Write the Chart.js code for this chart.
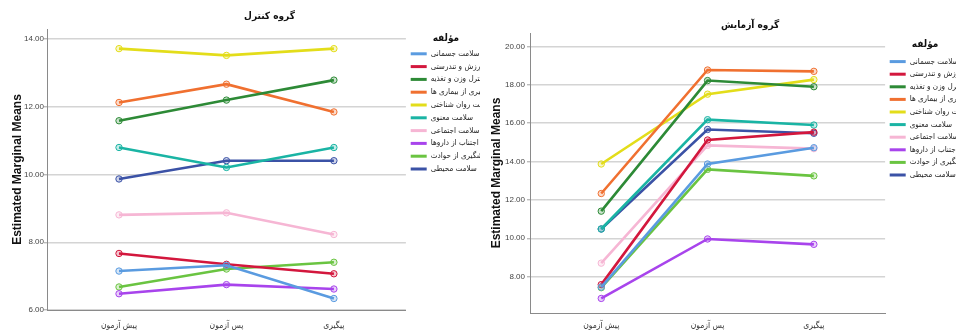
<!DOCTYPE html>
<html lang="fa">
<head>
<meta charset="utf-8">
<title>Estimated Marginal Means</title>
<script src="https://cdn.jsdelivr.net/npm/chart.js@4.4.1/dist/chart.umd.min.js"></script>
<style>
  html, body { margin: 0; padding: 0; background: #ffffff; }
  body { width: 956px; height: 335px; overflow: hidden; position: relative; }
  .panel { position: absolute; top: 0; background: #ffffff; }
  #controlPanel { left: 0; }
  #experimentPanel { left: 480px; }
</style>
</head>
<body>
<div class="panel" id="controlPanel"><canvas id="controlChart" width="536" height="335"></canvas></div>
<div class="panel" id="experimentPanel"><canvas id="experimentChart" width="540" height="335"></canvas></div>
<script>
// Measurement occasions (x axis)
const occasions = ['پیش آزمون', 'پس آزمون', 'پیگیری'];

// Health components (legend entries)
const components = [
  'سلامت جسمانی',
  'ورزش و تندرستی',
  'کنترل وزن و تغذیه',
  'پیشگیری از بیماری ها',
  'سلامت روان شناختی',
  'سلامت معنوی',
  'سلامت اجتماعی',
  'اجتناب از داروها',
  'پیشگیری از حوادث',
  'سلامت محیطی'
];

const componentColors = [
  '#5a9be0', '#d3173d', '#2d8a36', '#f07030', '#e3dd1a',
  '#1ab4a4', '#f6b6d4', '#a844ec', '#6ac441', '#3b52a6'
];

// Control group means, one row per component (pre, post, follow-up)
const controlMeans = [
  [7.15, 7.32, 6.34],
  [7.67, 7.35, 7.07],
  [11.59, 12.20, 12.79],
  [12.13, 12.67, 11.85],
  [13.72, 13.52, 13.72],
  [10.80, 10.21, 10.80],
  [8.81, 8.87, 8.23],
  [6.48, 6.75, 6.62],
  [6.68, 7.21, 7.41],
  [9.87, 10.41, 10.41]
];

// Experimental group means, one row per component (pre, post, follow-up)
const experimentMeans = [
  [7.45, 13.87, 14.72],
  [7.58, 15.12, 15.53],
  [11.41, 18.22, 17.90],
  [12.33, 18.77, 18.70],
  [13.87, 17.51, 18.27],
  [10.48, 16.18, 15.90],
  [8.70, 14.84, 14.67],
  [6.86, 9.96, 9.68],
  [7.42, 13.59, 13.25],
  [10.48, 15.67, 15.47]
];

// Value-axis tick labels
const controlTicks = [6, 8, 10, 12, 14];
const experimentTicks = [8, 10, 12, 14, 16, 18, 20];

const groupTitles = ['گروه کنترل', 'گروه آزمایش'];
const legendTitle = 'مؤلفه';
const valueAxisTitle = 'Estimated Marginal Means';

const persianFont = '"DejaVu Sans Condensed", "DejaVu Sans", sans-serif';
const latinFont = '"Liberation Sans", Arial, sans-serif';

function withAlpha(hex, a) {
  const n = parseInt(hex.slice(1), 16);
  return `rgba(${(n >> 16) & 255}, ${(n >> 8) & 255}, ${n & 255}, ${a})`;
}

// Draws the panel heading above the plot and the legend heading above the legend entries
const captionPlugin = {
  id: 'panelCaptions',
  afterDraw(chart, args, opts) {
    const { ctx, chartArea, legend } = chart;
    ctx.save();
    ctx.fillStyle = '#111';
    ctx.textAlign = 'center';
    ctx.textBaseline = 'middle';
    ctx.font = `bold 10px ${persianFont}`;
    ctx.fillText(opts.title, chartArea.left + chartArea.width * 0.62, chartArea.top - opts.titleGap);
    ctx.fillText(legendTitle, legend.left + opts.legendTitleShift, legend.top + opts.legendTitleTop + 6);
    ctx.restore();
  }
};

function buildDatasets(rows) {
  return rows.map((row, i) => ({
    label: components[i],
    data: row.map((v, j) => ({ x: j, y: v })),
    borderColor: componentColors[i],
    backgroundColor: componentColors[i],
    borderWidth: 2.6,
    pointRadius: 3.2,
    pointBorderWidth: 1,
    pointBackgroundColor: withAlpha(componentColors[i], 0.25),
    pointBorderColor: componentColors[i],
    tension: 0
  }));
}

function buildChart(canvasId, title, rows, yTicks, yMin, yMax, cfg) {
  return new Chart(document.getElementById(canvasId), {
    type: 'line',
    data: { datasets: buildDatasets(rows) },
    plugins: [captionPlugin],
    options: {
      responsive: false,
      animation: false,
      layout: { padding: { left: cfg.left, right: cfg.right, top: cfg.top, bottom: 0 } },
      plugins: {
        panelCaptions: {
          title: title,
          titleGap: cfg.titleGap,
          legendTitleTop: cfg.legendTitleTop,
          legendTitleShift: 40
        },
        legend: {
          position: 'right',
          align: 'start',
          title: {
            display: true,
            text: legendTitle,
            color: 'rgba(0,0,0,0)',
            font: { family: persianFont, size: 10, weight: 'bold' },
            padding: { top: cfg.legendTitleTop, bottom: cfg.legendTitleBottom }
          },
          labels: {
            boxWidth: 16,
            boxHeight: 3,
            padding: cfg.legendPad,
            color: '#222',
            font: { family: persianFont, size: 8 },
            generateLabels(chart) {
              const items = Chart.defaults.plugins.legend.labels.generateLabels(chart);
              items.forEach(it => { it.lineWidth = 0; it.fillStyle = it.strokeStyle; });
              return items;
            }
          }
        },
        tooltip: { enabled: false }
      },
      scales: {
        x: {
          type: 'linear',
          min: -0.67,
          max: 2.67,
          afterBuildTicks(scale) { scale.ticks = occasions.map((_, i) => ({ value: i })); },
          afterFit(scale) { scale.height = cfg.xHeight; },
          ticks: {
            color: '#333',
            padding: cfg.xPad,
            font: { family: persianFont, size: 8.5 },
            callback: v => occasions[v]
          },
          grid: { display: false, drawTicks: false },
          border: { display: true, color: '#8a8a8a', width: 1 }
        },
        y: {
          min: yMin,
          max: yMax,
          afterBuildTicks(scale) { scale.ticks = yTicks.map(v => ({ value: v })); },
          ticks: {
            color: '#444',
            padding: cfg.yPad,
            font: { family: latinFont, size: 8 },
            callback: v => Number(v).toFixed(2)
          },
          grid: { color: '#d4d4d4', lineWidth: 1.4, tickLength: 3, tickColor: '#bbbbbb' },
          border: { display: true, color: '#8a8a8a', width: 1 },
          title: {
            display: true,
            text: valueAxisTitle,
            color: '#111',
            font: { family: latinFont, size: 12, weight: 'bold', lineHeight: 1 },
            padding: { top: 0, bottom: 0 }
          }
        }
      }
    }
  });
}

buildChart('controlChart', groupTitles[0], controlMeans, controlTicks, 6, 14.3, {
  left: 12, right: 31, top: 29, titleGap: 13, xHeight: 25,
  legendTitleTop: 3, legendTitleBottom: 1, legendPad: 4.8, xPad: 11, yPad: 0
});
buildChart('experimentChart', groupTitles[1], experimentMeans, experimentTicks, 6.1, 20.7, {
  left: 11, right: 36, top: 33, titleGap: 8, xHeight: 22,
  legendTitleTop: 5, legendTitleBottom: 3, legendPad: 4.6, xPad: 8, yPad: 2
});
</script>
</body>
</html>
